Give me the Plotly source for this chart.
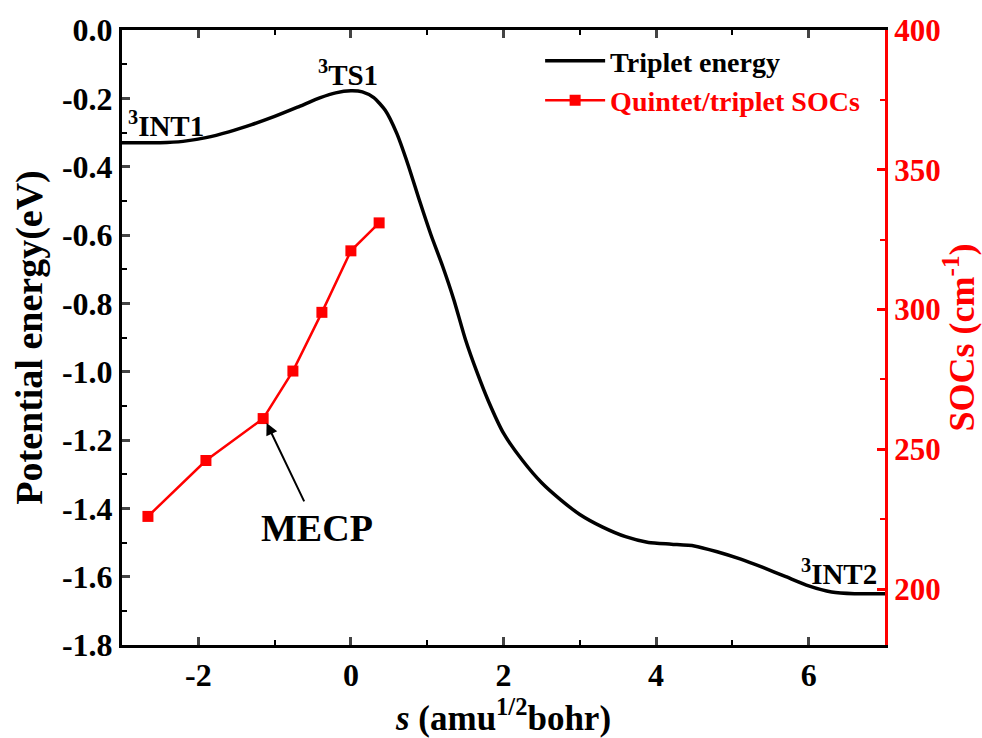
import plotly.graph_objects as go

# Triplet energy profile (eV) along reaction coordinate s
s_energy = [-3.0, -2.5, -2.2, -1.9, -1.6, -1.3, -1.0, -0.7, -0.4, -0.2, 0.0, 0.15, 0.3, 0.45,
            0.6, 0.75, 0.9, 1.05, 1.2, 1.35, 1.5, 1.65, 1.8, 2.0, 2.25, 2.5, 2.75, 3.0, 3.3,
            3.6, 3.9, 4.2, 4.5, 4.8, 5.1, 5.4, 5.7, 6.0, 6.3, 6.6, 7.0]
energy = [-0.33, -0.33, -0.326, -0.315, -0.298, -0.277, -0.253, -0.226, -0.198, -0.184, -0.178, -0.181,
          -0.198, -0.235, -0.302, -0.395, -0.5, -0.6, -0.69, -0.79, -0.905, -1.0, -1.085, -1.18,
          -1.26, -1.325, -1.375, -1.418, -1.455, -1.483, -1.5, -1.505, -1.51, -1.527, -1.548,
          -1.573, -1.6, -1.627, -1.645, -1.65, -1.65]

# Quintet/triplet SOCs (cm^-1)
s_soc = [-2.66, -1.90, -1.15, -0.76, -0.38, 0.0, 0.37]
soc = [226, 246, 261, 278, 299, 321, 331]

# Tick labels
x_ticks = [-2, 0, 2, 4, 6]
x_ticktext = ["-2", "0", "2", "4", "6"]
y_ticks = [0.0, -0.2, -0.4, -0.6, -0.8, -1.0, -1.2, -1.4, -1.6, -1.8]
y_ticktext = ["0.0", "-0.2", "-0.4", "-0.6", "-0.8", "-1.0", "-1.2", "-1.4", "-1.6", "-1.8"]
y2_ticks = [200, 250, 300, 350, 400]

FONT = "Liberation Serif, Times New Roman, serif"
RED = "#ff0000"

fig = go.Figure()
fig.add_trace(go.Scatter(x=s_energy, y=energy, mode="lines", name="Triplet energy",
                         line=dict(color="black", width=3.5, shape="spline", smoothing=0.6)))
fig.add_trace(go.Scatter(x=s_soc, y=soc, mode="lines+markers", yaxis="y2",
                         name="<span style='color:#ff0000'>Quintet/triplet SOCs</span>",
                         line=dict(color=RED, width=2.5),
                         marker=dict(symbol="square", size=11, color=RED)))

tickfont = dict(family=FONT, size=32, color="black", weight="bold")

fig.update_layout(
    width=982, height=738,
    margin=dict(l=122, r=97, t=30, b=93),
    paper_bgcolor="white", plot_bgcolor="white",
    showlegend=True,
    legend=dict(x=0.548, y=0.99, xanchor="left", yanchor="top", itemwidth=60,
                bgcolor="rgba(0,0,0,0)", tracegroupgap=0,
                font=dict(family=FONT, size=28, color="black", weight="bold")),
    xaxis=dict(range=[-3, 7], tickvals=x_ticks, ticktext=x_ticktext, ticks="inside", ticklen=8, tickwidth=2.5,
               showline=True, linecolor="black", linewidth=3, mirror="ticks", showgrid=False,
               zeroline=False, tickfont=tickfont, automargin=False,
               minor=dict(tickvals=[-3, -1, 1, 3, 5], ticks="inside", ticklen=5, tickwidth=2, tickcolor="black"),
               title=dict(text="<i>s</i> (amu<sup>1/2</sup>bohr)", standoff=6,
                          font=dict(family=FONT, size=35, color="black", weight="bold"))),
    yaxis=dict(range=[-1.8, 0.0], tickvals=y_ticks, ticktext=y_ticktext,
               ticks="inside", ticklen=8, tickwidth=2.5, automargin=False,
               showline=True, linecolor="black", linewidth=3, mirror=False, showgrid=False,
               zeroline=False, tickfont=tickfont,
               minor=dict(tickvals=[-0.1, -0.3, -0.5, -0.7, -0.9, -1.1, -1.3, -1.5, -1.7],
                          ticks="inside", ticklen=5, tickwidth=2, tickcolor="black"),
               title=dict(text="Potential energy(eV)", standoff=8,
                          font=dict(family=FONT, size=38, color="black", weight="bold"))),
    yaxis2=dict(range=[180, 400], overlaying="y", side="right", tickvals=y2_ticks,
                ticks="inside", ticklen=8, tickwidth=2.5, tickcolor=RED, automargin=False,
                showline=True, linecolor=RED, linewidth=3, showgrid=False, zeroline=False,
                tickfont=dict(family=FONT, size=31, color=RED, weight="bold"),
                minor=dict(tickvals=[225, 275, 325, 375], ticks="inside", ticklen=5, tickwidth=2, tickcolor=RED),
                title=dict(text="SOCs (cm<sup>-1</sup>)", standoff=10,
                           font=dict(family=FONT, size=36, color=RED, weight="bold"))),
)

labfont = dict(family=FONT, size=29, color="black", weight="bold")
fig.add_annotation(x=-2.42, y=-0.275, text="<sup>3</sup>INT1", showarrow=False, font=labfont)
fig.add_annotation(x=-0.04, y=-0.126, text="<sup>3</sup>TS1", showarrow=False, font=labfont)
fig.add_annotation(x=6.4, y=-1.586, text="<sup>3</sup>INT2", showarrow=False, font=labfont)
fig.add_annotation(x=-1.105, y=-1.15, ax=-0.603, ay=-1.384, axref="x", ayref="y",
                   text="", showarrow=True, arrowhead=2, arrowsize=1.2, arrowwidth=2, arrowcolor="black")
fig.add_annotation(x=-0.45, y=-1.457, text="MECP", showarrow=False,
                   font=dict(family=FONT, size=38, color="black", weight="bold"))

fig.write_html("out.html")
